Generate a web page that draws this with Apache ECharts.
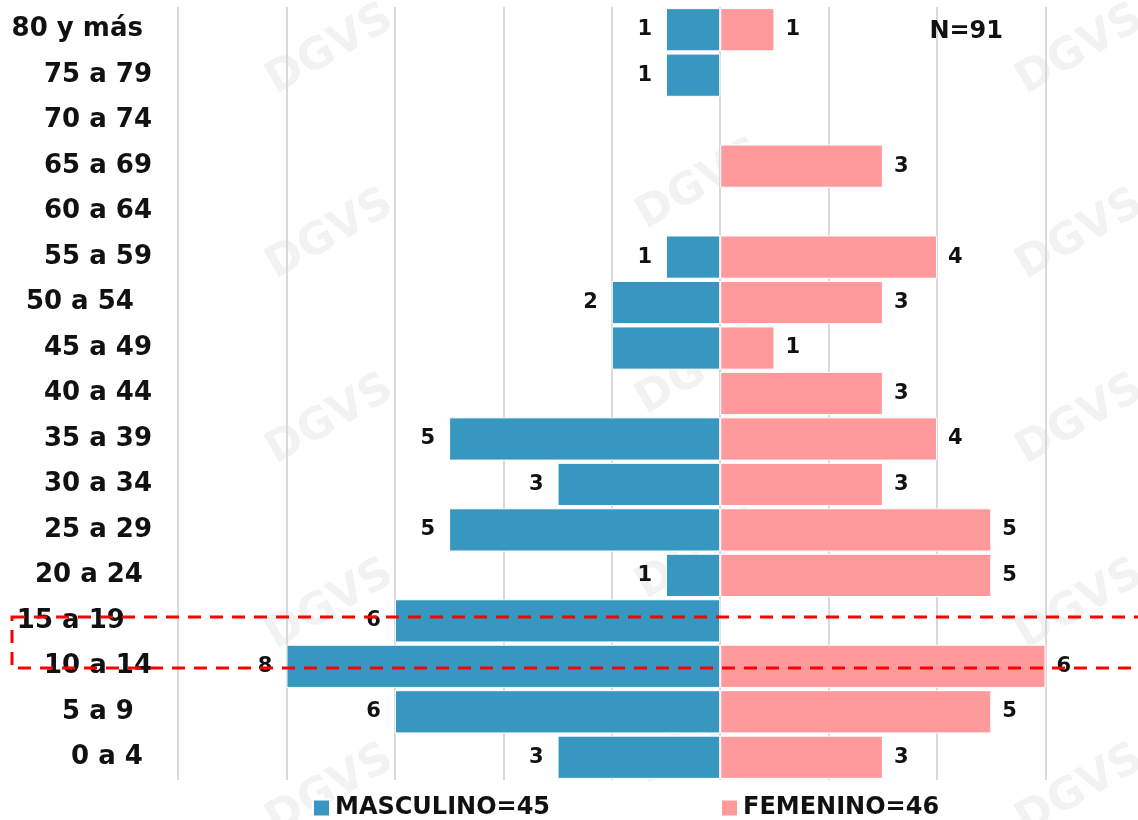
<!DOCTYPE html>
<html>
<head>
<meta charset="utf-8">
<script src="https://cdn.jsdelivr.net/npm/echarts@6/dist/echarts.min.js"></script>
<style>
  html, body { margin: 0; padding: 0; background: #fff; }
  #chart { width: 1138px; height: 820px; }
</style>
</head>
<body>
<div id="chart"></div>
<script>
// grupos de edad, de arriba hacia abajo (espacios finales = como en el original)
const ageGroups = [
  '80 y más ', '75 a 79', '70 a 74', '65 a 69', '60 a 64', '55 a 59',
  '50 a 54  ', '45 a 49', '40 a 44', '35 a 39', '30 a 34', '25 a 29',
  '20 a 24 ', '15 a 19   ', '10 a 14', '5 a 9  ', '0 a 4 '
];
const masculino = [1, 1, 0, 0, 0, 1, 2, 2, 0, 5, 3, 5, 1, 6, 8, 6, 3];
const femenino  = [1, 0, 0, 3, 0, 4, 3, 1, 3, 4, 3, 5, 5, 0, 6, 5, 3];
// en el original la barra de 45 a 49 (masculino) no tiene etiqueta
const maleNoLabel = ['45 a 49'];
const xTicks = [-10, -8, -6, -4, -2, 0, 2, 4, 6, 8];

const FONT = 'DejaVu Sans';
const chart = echarts.init(document.getElementById('chart'));

// marca de agua suave
const watermark = [];
[[330, 50], [700, 185], [1080, 50], [330, 235], [700, 370], [1080, 235],
 [330, 420], [700, 555], [1080, 420], [330, 605], [700, 740], [1080, 605],
 [330, 790], [1080, 790]].forEach(([x, y]) => {
  watermark.push({
    type: 'text', x: x, y: y, rotation: Math.PI / 6, silent: true, z: -1,
    style: { text: 'DGVS', fill: 'rgba(0,0,0,0.05)', font: 'bold 44px ' + FONT,
             align: 'center', verticalAlign: 'middle' }
  });
});

const legendText = { fontSize: 24, fontWeight: 'bold', color: '#111', fontFamily: FONT };

chart.setOption({
  animation: false,
  textStyle: { fontFamily: FONT },
  title: {
    text: 'N=91', right: 130, top: 15,
    textStyle: { fontSize: 24, fontWeight: 'bold', color: '#111', fontFamily: FONT }
  },
  legend: [
    {
      data: ['MASCULINO=45'], left: 307, bottom: -5, itemWidth: 17, itemHeight: 17,
      itemGap: 5, icon: 'rect', textStyle: legendText
    },
    {
      data: ['FEMENINO=46'], left: 715, bottom: -5, itemWidth: 17, itemHeight: 17,
      itemGap: 5, icon: 'rect', textStyle: legendText
    }
  ],
  grid: { left: 178, right: -16, top: 7, bottom: 40, outerBoundsMode: 'none' },
  xAxis: {
    type: 'value',
    min: xTicks[0], max: xTicks[xTicks.length - 1], interval: 2,
    axisLabel: { show: false },
    axisLine: { show: false },
    axisTick: { show: false },
    splitLine: { lineStyle: { color: '#d9d9d9', width: 2 } }
  },
  yAxis: {
    type: 'category',
    inverse: true,
    data: ageGroups,
    axisLine: { show: false },
    axisTick: { show: false },
    axisLabel: {
      margin: 26, fontSize: 26, fontWeight: 'bold', color: '#111', fontFamily: FONT
    }
  },
  series: [
    {
      name: 'MASCULINO=45',
      type: 'bar',
      stack: 'pyramid',
      barCategoryGap: '5%',
      itemStyle: { color: '#3797c0', borderColor: '#fff', borderWidth: 1 },
      label: {
        show: true, position: 'left', distance: 14,
        fontSize: 21, fontWeight: 'bold', color: '#111', fontFamily: FONT,
        formatter: p => String(-p.value)
      },
      data: masculino.map((v, i) => {
        if (v === 0) return '-';
        const item = { value: -v };
        if (maleNoLabel.includes(ageGroups[i].trim())) item.label = { show: false };
        return item;
      })
    },
    {
      name: 'FEMENINO=46',
      type: 'bar',
      stack: 'pyramid',
      barCategoryGap: '5%',
      itemStyle: { color: '#ff999b', borderColor: '#fff', borderWidth: 1 },
      label: {
        show: true, position: 'right', distance: 11,
        fontSize: 21, fontWeight: 'bold', color: '#111', fontFamily: FONT,
        formatter: p => String(p.value)
      },
      data: femenino.map(v => (v === 0 ? '-' : v))
    }
  ],
  graphic: watermark.concat([
    {
      type: 'rect', silent: true, z: 100,
      shape: { x: 12, y: 617, width: 1150, height: 51 },
      style: { fill: 'none', stroke: '#ff0000', lineWidth: 3, lineDash: [13, 9] }
    }
  ])
});
</script>
</body>
</html>
